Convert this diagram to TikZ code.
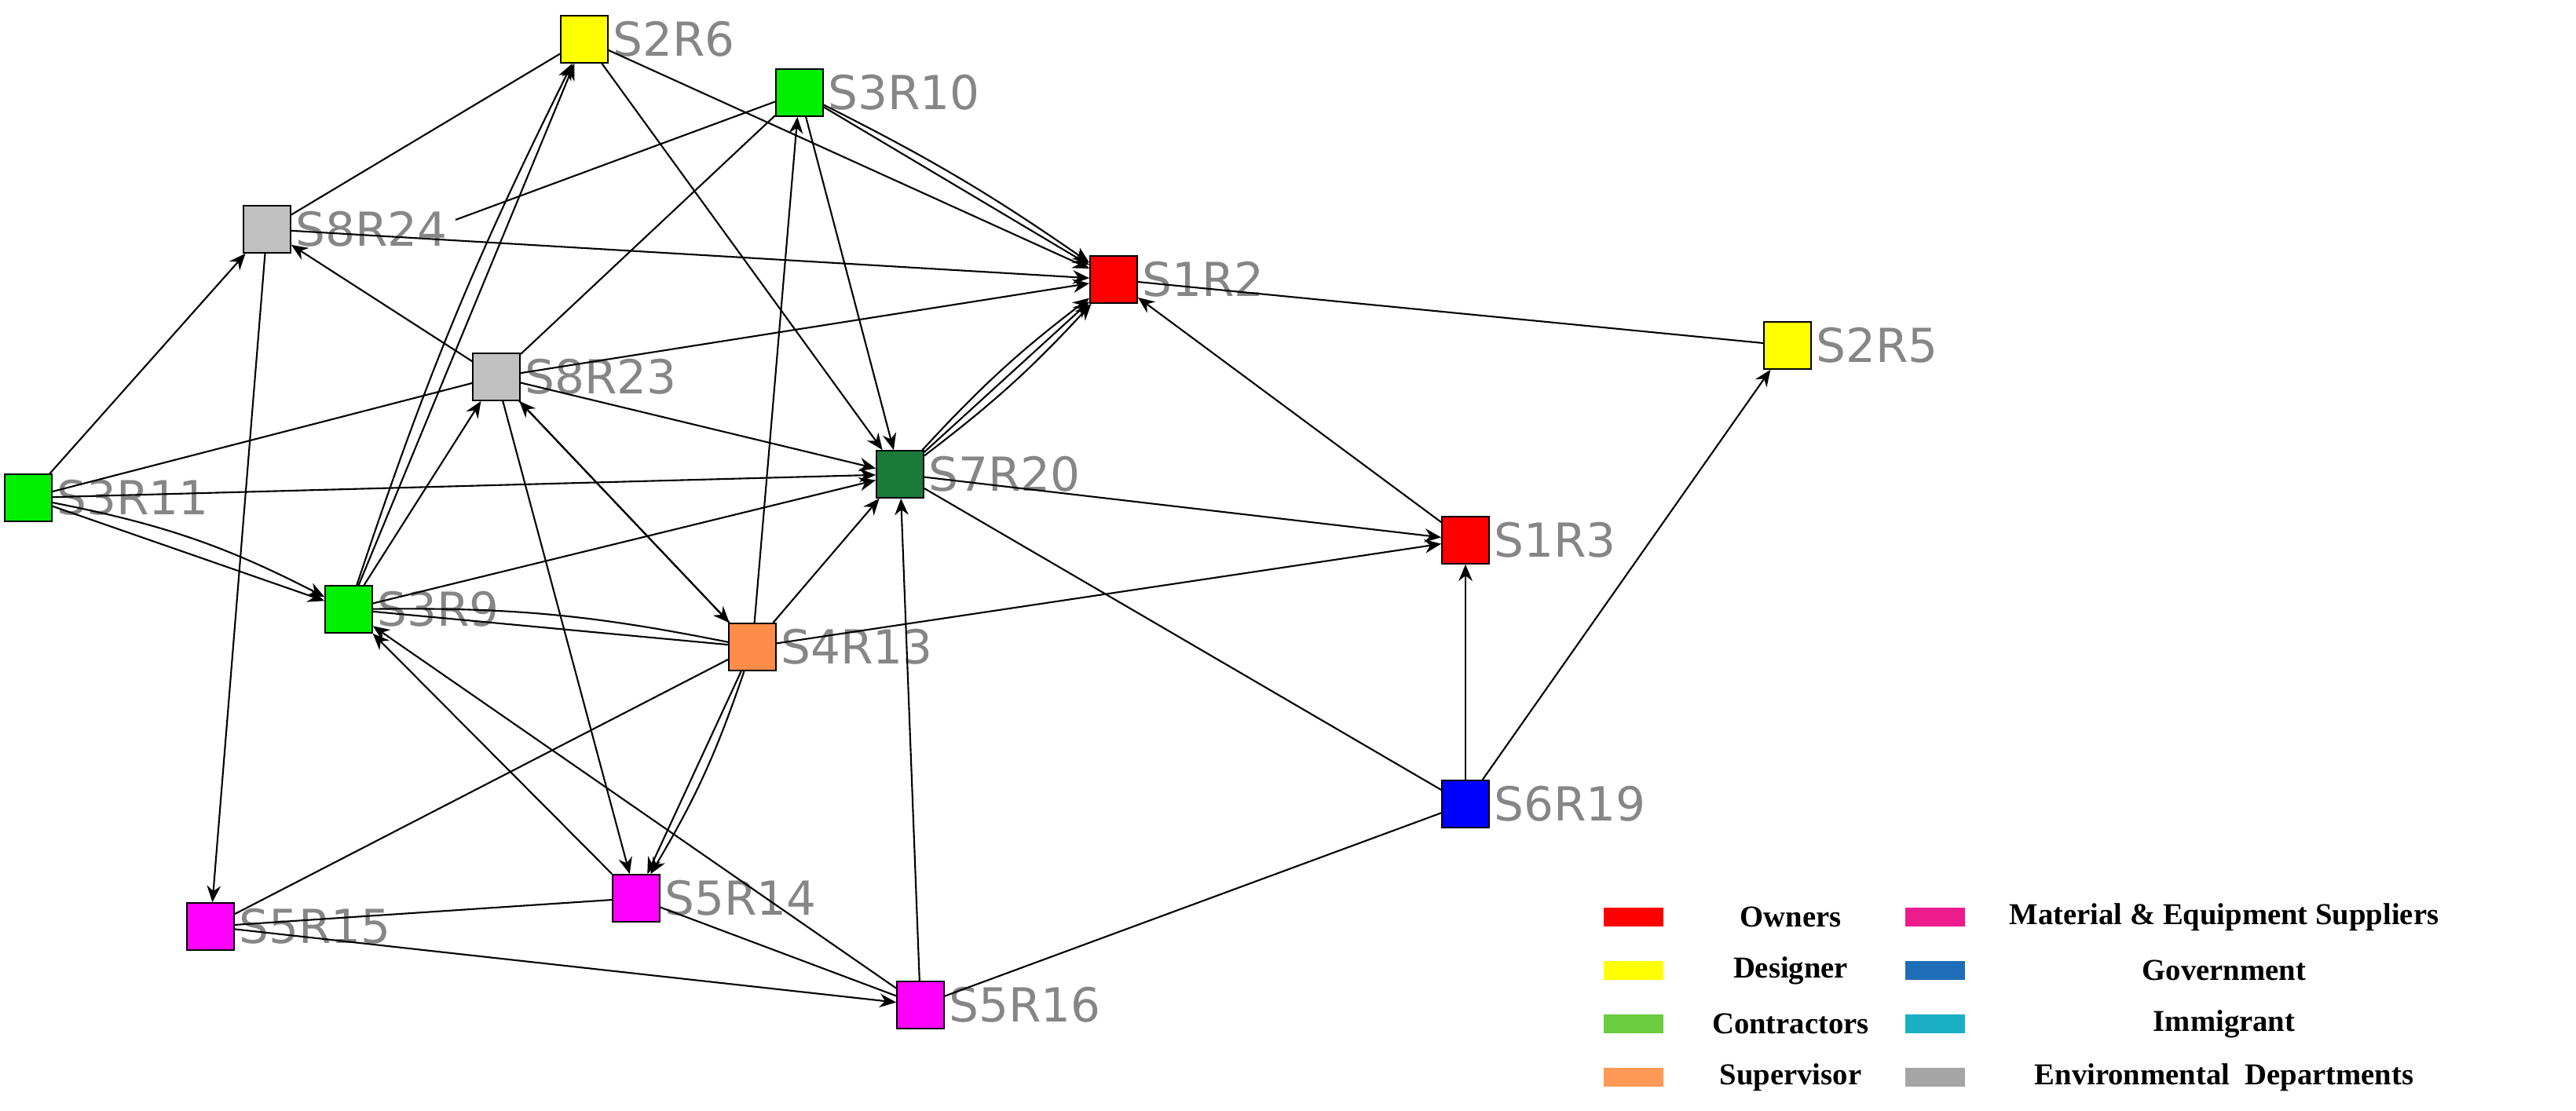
\documentclass[tikz,border=0pt]{standalone}
\usepackage{fontspec}
\setmainfont{Liberation Serif}
\newfontfamily\lab{DejaVu Sans}
\usetikzlibrary{arrows.meta}
\definecolor{cown}{HTML}{FF0000}
\definecolor{cdes}{HTML}{FFFF00}
\definecolor{ccon}{HTML}{00F000}
\definecolor{cenv}{HTML}{C0C0C0}
\definecolor{cdg}{HTML}{1A7A3A}
\definecolor{csup}{HTML}{FF8C48}
\definecolor{cmat}{HTML}{FF00FF}
\definecolor{cgov}{HTML}{0000FF}
\definecolor{lown}{HTML}{FF0000}
\definecolor{ldes}{HTML}{FFFF00}
\definecolor{lcon}{HTML}{6ACC3E}
\definecolor{lsup}{HTML}{FF9955}
\definecolor{lmat}{HTML}{EC1C8C}
\definecolor{lgov}{HTML}{1F6CB7}
\definecolor{limm}{HTML}{1AAFC4}
\definecolor{lenv}{HTML}{A5A5A5}
\begin{document}
\begin{tikzpicture}[x=0.02cm,y=-0.02cm,
  nd/.style={draw=black,line width=0.5pt,minimum size=0.6cm,inner sep=0pt,
    label={[text=gray!95,font=\lab\fontsize{17}{17}\selectfont,anchor=west,xshift=-2pt]east:#1}},
  e/.style={-{Stealth[length=6pt,width=5pt]},line width=0.6pt},
  u/.style={line width=0.6pt},
  sw/.style={minimum width=0.76cm,minimum height=0.24cm,inner sep=0pt},
  lt/.style={font=\bfseries\fontsize{11}{11}\selectfont}]
\useasboundingbox (0,0) rectangle (1640,707.5);
\node[nd=S2R6,fill=cdes] (s2r6) at (372,25) {};
\node[nd=S3R10,fill=ccon] (s3r10) at (509,59) {};
\node[nd=S8R24,fill=cenv] (s8r24) at (170,146) {};
\node[nd=S1R2,fill=cown] (s1r2) at (709,178) {};
\node[nd=S2R5,fill=cdes] (s2r5) at (1138,220) {};
\node[nd=S8R23,fill=cenv] (s8r23) at (316,240) {};
\node[nd=S3R11,fill=ccon] (s3r11) at (18,317) {};
\node[nd=S7R20,fill=cdg] (s7r20) at (573,302) {};
\node[nd=S1R3,fill=cown] (s1r3) at (933,344) {};
\node[nd=S3R9,fill=ccon] (s3r9) at (222,388) {};
\node[nd=S4R13,fill=csup] (s4r13) at (479,412) {};
\node[nd=S6R19,fill=cgov] (s6r19) at (933,512) {};
\node[nd=S5R15,fill=cmat] (s5r15) at (134,590) {};
\node[nd=S5R14,fill=cmat] (s5r14) at (405,572) {};
\node[nd=S5R16,fill=cmat] (s5r16) at (586,640) {};
\coordinate (s8r24t) at (290,140);
% edges
\draw[e] (s2r6) -- (s1r2);
\draw[e] (s2r6) -- (s7r20);
\draw[e] (s3r10) -- (s1r2);
\draw[e] (s3r10) to[bend left=4] (s1r2);
\draw[e] (s3r10) -- (s7r20);
\draw[u] (s8r24) -- (s2r6);
\draw[e] (s8r24) -- (s1r2);
\draw[e] (s8r24) -- (s5r15);
\draw[u] (s8r24t) -- (s3r10);
\draw[e] (s3r11) -- (s8r24);
\draw[e] (s3r11) -- (s7r20);
\draw[e] (s3r11) -- (s3r9);
\draw[e] (s3r11) to[bend left=8] (s3r9);
\draw[u] (s3r11) -- (s8r23);
\draw[e] (s8r23) -- (s8r24);
\draw[e] (s8r23) -- (s1r2);
\draw[e] (s8r23) -- (s7r20);
\draw[u] (s8r23) -- (s3r10);
\draw[e] (s8r23) -- (s5r14);
\draw[e] (s8r23) -- (s4r13);
\draw[e] (s4r13) -- (s8r23);
\draw[e] (s3r9) -- (s2r6);
\draw[e] (s3r9) to[bend left=4] (s2r6);
\draw[e] (s3r9) -- (s8r23);
\draw[e] (s3r9) -- (s7r20);
\draw[u] (s3r9) -- (s4r13);
\draw[u] (s3r9) to[bend left=6] (s4r13);
\draw[e] (s4r13) -- (s3r10);
\draw[e] (s4r13) -- (s7r20);
\draw[e] (s4r13) -- (s1r3);
\draw[e] (s4r13) -- (s5r14);
\draw[e] (s4r13) to[bend left=6] (s5r14);
\draw[u] (s4r13) -- (s5r15);
\draw[e] (s5r14) -- (s3r9);
\draw[u] (s5r15) -- (s5r14);
\draw[e] (s5r15) -- (s5r16);
\draw[u] (s5r14) -- (s5r16);
\draw[e] (s5r16) -- (s7r20);
\draw[e] (s5r16) -- (s3r9);
\draw[u] (s6r19) -- (s5r16);
\draw[e] (s6r19) -- (s1r3);
\draw[e] (s6r19) -- (s2r5);
\draw[u] (s7r20) -- (s6r19);
\draw[e] (s7r20) -- (s1r2);
\draw[e] (s7r20) to[bend left=5] (s1r2);
\draw[e] (s7r20) to[bend right=5] (s1r2);
\draw[e] (s7r20) -- (s1r3);
\draw[e] (s1r3) -- (s1r2);
\draw[u] (s1r2) -- (s2r5);
% legend
\node[sw,fill=lown] (l1) at (1040,584) {};
\node[sw,fill=ldes] (l2) at (1040,618) {};
\node[sw,fill=lcon] (l3) at (1040,652) {};
\node[sw,fill=lsup] (l4) at (1040,686) {};
\node[lt] (t1) at (1140,584) {Owners};
\node[lt] (t2) at (1140,618) {Designer};
\node[lt] (t3) at (1140,652) {Contractors};
\node[lt] (t4) at (1140,686) {Supervisor};
\node[sw,fill=lmat] (l5) at (1232,584) {};
\node[sw,fill=lgov] (l6) at (1232,618) {};
\node[sw,fill=limm] (l7) at (1232,652) {};
\node[sw,fill=lenv] (l8) at (1232,686) {};
\node[lt] (t5) at (1416,584) {Material \& Equipment Suppliers};
\node[lt] (t6) at (1416,618) {Government};
\node[lt] (t7) at (1416,652) {Immigrant};
\node[lt] (t8) at (1416,686) {Environmental\ \ Departments};
\end{tikzpicture}
\end{document}
